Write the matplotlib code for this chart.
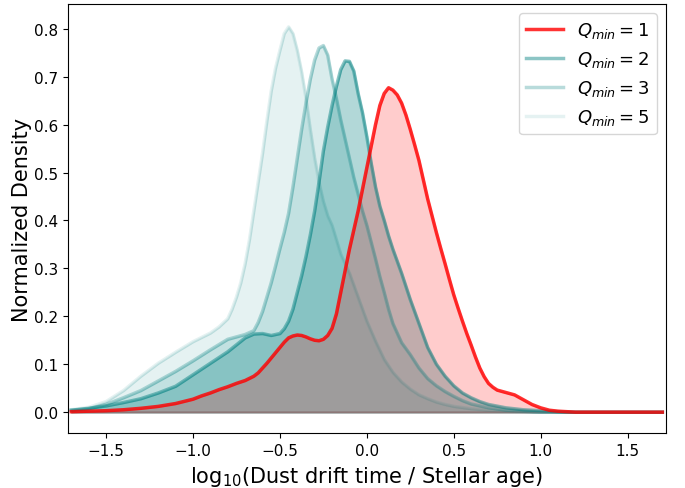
import numpy as np
import matplotlib.pyplot as plt

# Q_min = 1 (red)
x_q1 = [-1.70, -1.60, -1.50, -1.40, -1.30, -1.20, -1.10, -1.00, -0.95, -0.90, -0.85, -0.80,
        -0.75, -0.70, -0.65, -0.625, -0.60, -0.575, -0.55, -0.525, -0.50, -0.475, -0.45, -0.425,
        -0.40, -0.375, -0.35, -0.325, -0.30, -0.275, -0.25, -0.225, -0.20, -0.175, -0.15, -0.125,
        -0.10, -0.075, -0.05, -0.025, 0.00, 0.025, 0.05, 0.075, 0.10, 0.125, 0.15, 0.175, 0.20,
        0.225, 0.25, 0.275, 0.30, 0.325, 0.35, 0.375, 0.40, 0.425, 0.45, 0.475, 0.50, 0.525,
        0.55, 0.575, 0.60, 0.625, 0.65, 0.675, 0.70, 0.725, 0.75, 0.80, 0.85, 0.90, 0.95, 1.00,
        1.05, 1.10, 1.20, 1.40, 1.70]
y_q1 = [0.001, 0.002, 0.003, 0.005, 0.008, 0.012, 0.018, 0.027, 0.034, 0.040, 0.047, 0.053,
        0.060, 0.066, 0.075, 0.082, 0.092, 0.102, 0.113, 0.124, 0.135, 0.146, 0.155, 0.159,
        0.161, 0.160, 0.157, 0.153, 0.150, 0.149, 0.152, 0.160, 0.175, 0.205, 0.250, 0.295,
        0.340, 0.380, 0.420, 0.465, 0.510, 0.555, 0.600, 0.640, 0.665, 0.677, 0.672, 0.662, 0.645,
        0.620, 0.590, 0.558, 0.525, 0.485, 0.445, 0.410, 0.375, 0.342, 0.310, 0.277, 0.245, 0.217,
        0.190, 0.164, 0.140, 0.115, 0.092, 0.074, 0.060, 0.052, 0.046, 0.041, 0.036, 0.026, 0.016, 0.009,
        0.004, 0.002, 0.000, 0.000, 0.000]

# Q_min = 2
x_q2 = [-1.70, -1.60, -1.50, -1.40, -1.30, -1.20, -1.10, -1.00, -0.90, -0.80, -0.70, -0.65,
        -0.60, -0.55, -0.50, -0.475, -0.45, -0.425, -0.40, -0.375, -0.35, -0.325, -0.30, -0.275,
        -0.25, -0.225, -0.20, -0.175, -0.15, -0.125, -0.10, -0.075, -0.05, -0.025, 0.00, 0.025,
        0.05, 0.075, 0.10, 0.125, 0.15, 0.20, 0.25, 0.30, 0.35, 0.40, 0.45, 0.50, 0.55,
        0.60, 0.65, 0.70, 0.80, 0.90, 1.00, 1.10, 1.20, 1.70]
y_q2 = [0.004, 0.008, 0.013, 0.020, 0.028, 0.040, 0.054, 0.078, 0.102, 0.126, 0.155, 0.163,
        0.164, 0.160, 0.164, 0.174, 0.190, 0.215, 0.250, 0.285, 0.325, 0.370, 0.420, 0.480,
        0.545, 0.595, 0.640, 0.680, 0.715, 0.733, 0.732, 0.712, 0.665, 0.625, 0.575, 0.520,
        0.470, 0.430, 0.400, 0.368, 0.340, 0.290, 0.235, 0.185, 0.135, 0.100, 0.075, 0.055, 0.040,
        0.030, 0.022, 0.016, 0.009, 0.005, 0.003, 0.001, 0.000, 0.000]

# Q_min = 3
x_q3 = [-1.70, -1.60, -1.50, -1.40, -1.30, -1.20, -1.10, -1.00, -0.90, -0.80, -0.70, -0.65,
        -0.625, -0.60, -0.575, -0.55, -0.525, -0.50, -0.475, -0.45, -0.425, -0.40, -0.375, -0.35,
        -0.325, -0.30, -0.275, -0.25, -0.225, -0.20, -0.175, -0.15, -0.125, -0.10, -0.075, -0.05,
        -0.025, 0.00, 0.025, 0.05, 0.075, 0.10, 0.125, 0.15, 0.20, 0.25, 0.30, 0.35, 0.40, 0.45,
        0.50, 0.55, 0.60, 0.70, 0.80, 0.90, 1.00, 1.70]
y_q3 = [0.004, 0.007, 0.016, 0.030, 0.045, 0.065, 0.085, 0.107, 0.130, 0.152, 0.162, 0.170,
        0.187, 0.210, 0.240, 0.270, 0.305, 0.341, 0.375, 0.415, 0.470, 0.530, 0.590, 0.645,
        0.695, 0.735, 0.760, 0.765, 0.745, 0.695, 0.655, 0.610, 0.570, 0.530, 0.490, 0.455,
        0.420, 0.390, 0.355, 0.320, 0.283, 0.250, 0.215, 0.185, 0.145, 0.120, 0.092, 0.070, 0.055, 0.043,
        0.033, 0.024, 0.017, 0.009, 0.004, 0.002, 0.000, 0.000]

# Q_min = 5
x_q5 = [-1.70, -1.60, -1.50, -1.40, -1.30, -1.20, -1.10, -1.00, -0.90, -0.85, -0.80, -0.775,
        -0.75, -0.725, -0.70, -0.675, -0.65, -0.625, -0.60, -0.575, -0.55, -0.525, -0.50, -0.475,
        -0.45, -0.425, -0.40, -0.375, -0.35, -0.325, -0.30, -0.275, -0.25, -0.225, -0.20, -0.175,
        -0.15, -0.10, -0.05, 0.00, 0.05, 0.10, 0.15, 0.20, 0.25, 0.30, 0.35, 0.40, 0.45,
        0.50, 0.60, 0.70, 0.80, 0.90, 1.00, 1.70]
y_q5 = [0.005, 0.010, 0.022, 0.045, 0.075, 0.102, 0.125, 0.147, 0.165, 0.178, 0.195, 0.215,
        0.240, 0.270, 0.310, 0.360, 0.420, 0.480, 0.540, 0.607, 0.670, 0.718, 0.755, 0.790,
        0.804, 0.790, 0.755, 0.710, 0.655, 0.590, 0.530, 0.480, 0.440, 0.410, 0.390, 0.360,
        0.330, 0.290, 0.240, 0.190, 0.148, 0.110, 0.083, 0.063, 0.048, 0.036, 0.028, 0.021, 0.016,
        0.012, 0.007, 0.004, 0.002, 0.001, 0.000, 0.000]

labels = ["$Q_{min} = 1$", "$Q_{min} = 2$", "$Q_{min} = 3$", "$Q_{min} = 5$"]

fig, ax = plt.subplots(figsize=(6.85, 4.89), dpi=100)
fig.subplots_adjust(left=0.099, right=0.972, top=0.99, bottom=0.112)

# teal curves, widest first so the narrow one sits on top
teal = "teal"
curves = [
    (x_q5, y_q5, labels[3], 0.10, 0.10),
    (x_q3, y_q3, labels[2], 0.15, 0.28),
    (x_q2, y_q2, labels[1], 0.30, 0.45),
]
handles = {}
for xs, ys, lab, fa, la in curves:
    ax.fill_between(xs, ys, 0, color=teal, alpha=fa, linewidth=1.5)
    h, = ax.plot(xs, ys, color=teal, alpha=la, lw=2.5, label=lab,
                 solid_joinstyle="round")
    handles[lab] = h

ax.fill_between(x_q1, y_q1, 0, color="red", alpha=0.2, linewidth=1.5)
h1, = ax.plot(x_q1, y_q1, color="red", alpha=0.8, lw=2.5, label=labels[0],
              solid_joinstyle="round")

ax.legend([h1, handles[labels[1]], handles[labels[2]], handles[labels[3]]], labels,
          loc="upper right", fontsize=13)

ax.set_xlim(-1.72, 1.72)
ax.set_ylim(-0.044, 0.852)
ax.set_xticks([-1.5, -1.0, -0.5, 0.0, 0.5, 1.0, 1.5])
ax.tick_params(labelsize=11)
ax.set_xlabel("log$_{10}$(Dust drift time / Stellar age)", fontsize=15)
ax.set_ylabel("Normalized Density", fontsize=15, labelpad=1)

fig.savefig("out.png", dpi=100)
